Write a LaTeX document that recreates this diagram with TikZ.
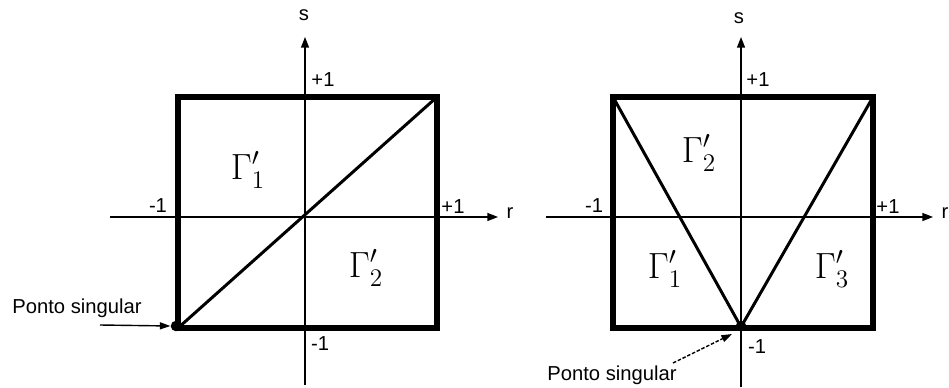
\documentclass[tikz,border=0pt]{standalone}
\usepackage{fontspec}
\setmainfont{Liberation Sans}
\usetikzlibrary{arrows.meta}
\tikzset{
  axis/.style={line width=0.8pt,-{Triangle[length=6pt,width=4.5pt]}},
  frame/.style={line width=3.3pt,line join=miter},
  diag/.style={line width=1.7pt},
  lbl/.style={font=\fontsize{11.5}{12}\selectfont,inner sep=0pt},
  gam/.style={font=\fontsize{20}{22}\selectfont,inner sep=0pt},
  pnt/.style={circle,fill=black,inner sep=0pt,minimum size=6pt},
  ptr/.style={line width=0.8pt,-{Triangle[length=6pt,width=4pt]}},
}
\begin{document}
\begin{tikzpicture}[x={(0.02cm,0)},y={(0,-0.02cm)}]
\useasboundingbox (0,0) rectangle (949,388);
% ---------- left panel ----------
\draw[axis] (110,217) -- (498,217);
\draw[axis] (305,385) -- (305,37);
\draw[frame] (178,97) rectangle (437,328);
\coordinate (LA) at (178,328);
\coordinate (LB) at (437,97);
\draw[diag] (LA) -- (LB);
\node[pnt] (Ldot) at (176,326) {};
\node[lbl] (Ls) at (304,15) {s};
\node[lbl] (Lr) at (510,213) {r};
\node[lbl] (Ltop) at (323,80) {+1};
\node[lbl] (Lleft) at (158,206) {-1};
\node[lbl] (Lright) at (453,207) {+1};
\node[lbl] (Lbot) at (320,344) {-1};
\node[gam] (LG1) at (248,170) {$\Gamma_1'$};
\node[gam] (LG2) at (366,268) {$\Gamma_2'$};
\node[lbl] (LPs) at (77,308) {Ponto singular};
\coordinate (Lptr) at (100,325);
\draw[ptr] (Lptr) -- (Ldot.west);
% ---------- right panel ----------
\draw[axis] (546,217) -- (933,217);
\draw[axis] (741,387) -- (741,37);
\draw[frame] (613,97) rectangle (873,328);
\coordinate (RA) at (613,97);
\coordinate (RB) at (873,97);
\coordinate (RC) at (741,327);
\draw[diag] (RA) -- (RC) -- (RB);
\node[pnt] (Rdot) at (741,326) {};
\node[lbl] (Rs) at (739,18) {s};
\node[lbl] (Rr) at (945,213) {r};
\node[lbl] (Rtop) at (758,80) {+1};
\node[lbl] (Rleft) at (594,206) {-1};
\node[lbl] (Rright) at (888,207) {+1};
\node[lbl] (Rbot) at (757,347) {-1};
\node[gam] (RG2) at (699,153) {$\Gamma_2'$};
\node[gam] (RG1) at (665,269) {$\Gamma_1'$};
\node[gam] (RG3) at (832,269) {$\Gamma_3'$};
\node[lbl] (RPs) at (612,375) {Ponto singular};
\coordinate (Rptr) at (673,363);
\draw[ptr,dashed,dash pattern=on 2pt off 1pt] (Rptr) -- (732,334);
\end{tikzpicture}
\end{document}
